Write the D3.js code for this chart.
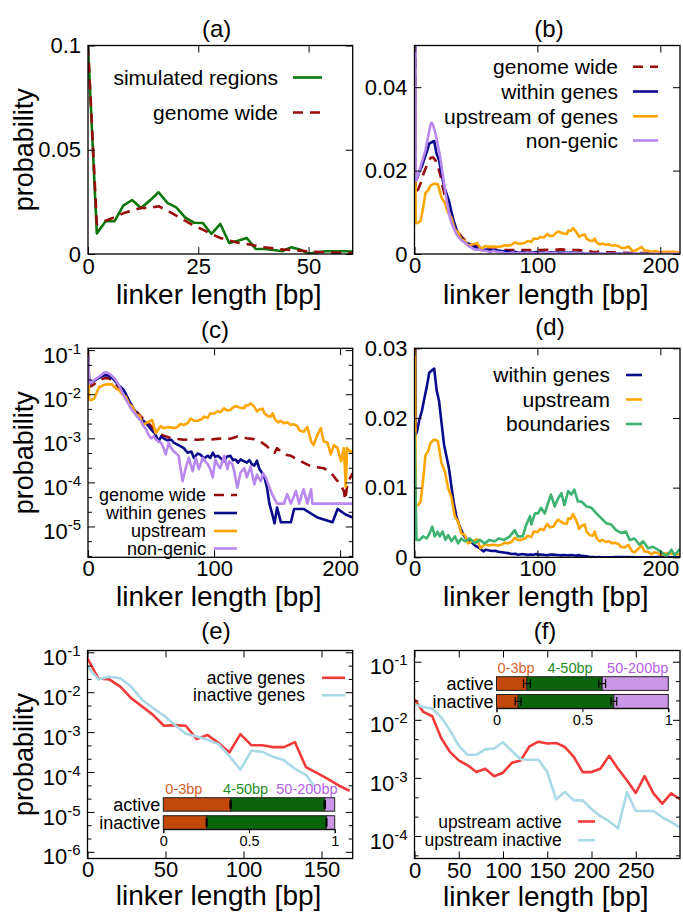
<!DOCTYPE html>
<html>
<head>
<meta charset="utf-8">
<script src="https://cdn.jsdelivr.net/npm/d3@7"></script>
<style>
  html, body { margin: 0; padding: 0; background: #fff; }
  svg { display: block; }
</style>
</head>
<body>
<svg id="fig" width="683" height="913"></svg>
<script>
// ---------------- data: [linker length (bp), probability] ----------------

// (a) 2-bp bins
const simulatedRegions = [
  [0,0.1],[2,0.0099],[4,0.0157],[6,0.0157],[8,0.0232],[10,0.0259],[12,0.0221],[14,0.0256],
  [16,0.0296],[18,0.0245],[20,0.0224],[22,0.0176],[24,0.015],[26,0.0149],[28,0.0096],[30,0.0144],
  [32,0.0053],[34,0.0064],[36,0.0077],[38,0.0024],[40,0.0024],[42,0.0019],[44,0.0013],[46,0.0032],
  [48,0.0022],[50,0.0002],[52,0.0008],[54,0.0013],[56,0.0013],[58,0.0013],[60,0.0012]
];
const genomeWide2bp = [
  [0,0.1],[2,0.0144],[4,0.016],[6,0.0176],[8,0.0195],[10,0.0208],[12,0.0221],[14,0.0221],
  [16,0.0229],[18,0.0208],[20,0.0184],[22,0.016],[24,0.0136],[26,0.0117],[28,0.0096],[30,0.0077],
  [32,0.0064],[34,0.0054],[36,0.0048],[38,0.004],[40,0.0032],[42,0.0027],[44,0.0022],[46,0.0019],
  [48,0.0016],[50,0.0013],[52,0.001],[54,0.0008],[56,0.0006],[58,0.0006],[60,0.0005]
];

// (b), (c), (d)
const genomeWide = [
  [0,0.1],[1,0.0148],[3,0.0155],[5,0.017],[7,0.019],[9,0.0205],[11,0.022],[13,0.023],[15,0.0232],
  [17,0.0225],[19,0.021],[21,0.019],[23,0.016],[25,0.0135],[27,0.011],[30,0.0088],[33,0.0065],
  [36.5,0.0048],[40,0.0036],[43,0.0029],[46,0.0024],[50,0.0019],[53,0.0016],[56,0.0013],[60,0.00115],
  [66,0.001],[70,0.00097],[76,0.00093],[80,0.00094],[87,0.00093],[92,0.00095],[97,0.00093],
  [102,0.00097],[108,0.001],[113,0.00098],[118.5,0.0011],[122,0.00104],[126,0.001],[130,0.00097],
  [134,0.00093],[138,0.0008],[142,0.00066],[145,0.00052],[148,0.00047],[150,0.0006],[153,0.0005],
  [155.5,0.00043],[161,0.0004],[166,0.00033],[171,0.00028],[177,0.00023],[182,0.00022],[187,0.00021],
  [192.6,0.000166],[198,0.000107],[201,0.00008],[203,0.000064],[204,0.00004],[206,0.0001],
  [210,0.00016],[216,0.00018]
];
const withinGenes = [
  [0,0.075],[1,0.0176],[2,0.018],[4,0.0198],[6,0.021],[8,0.0228],[10,0.0245],[12,0.0265],[14,0.0268],
  [16,0.0271],[18,0.024],[20,0.0224],[22,0.0193],[24,0.0162],[26,0.0145],[28,0.0128],[30,0.0102],
  [32,0.0078],[34,0.006],[36,0.0048],[38,0.0039],[40,0.0032],[42,0.0027],[44,0.0025],[46,0.0022],
  [48,0.0019],[50,0.0016],[53,0.0013],[56,0.00085],[58,0.0011],[60,0.001],[63,0.0009],[66,0.00093],
  [68,0.0008],[71,0.00072],[74,0.00065],[76,0.0006],[79,0.00047],[82,0.0005],[84,0.00036],[87,0.00045],
  [89,0.00043],[92,0.00035],[95,0.0004],[97,0.00036],[99,0.00047],[101,0.00038],[103,0.0004],
  [106,0.00034],[108,0.0003],[110,0.00038],[113,0.0004],[115,0.00032],[117,0.00033],[119,0.00028],
  [121,0.00033],[124,0.0003],[126,0.00028],[128,0.00032],[130,0.00026],[132,0.00024],[134,0.00031],
  [136,0.0002],[138,0.000166],[140,0.000129],[142,0.000076],[144,0.000032],[146,0.00002],
  [148,0.0000118],[150,0.000027],[153,0.0000125],[158,0.0000125],[161,0.0000125],[163.5,0.000025],
  [171,0.000025],[182,0.000016],[194,0.0000125],[198,0.000025],[204,0.000019],[210,0.000016],
  [216,0.000015]
];
const upstreamOfGenes = [
  [0,0.054],[1,0.0074],[3,0.0075],[5,0.008],[7,0.0111],[9,0.0147],[11,0.0152],[13,0.0164],[16,0.0169],
  [19,0.0167],[22,0.0135],[24.7,0.0123],[27.4,0.0099],[30,0.0087],[32.8,0.0059],[35.5,0.0051],
  [38,0.0035],[41,0.0032],[43.6,0.002],[46,0.0022],[48.4,0.0024],[51,0.0026],[53.7,0.0013],
  [57.7,0.0019],[60,0.0017],[64,0.0018],[68,0.0017],[70.7,0.0018],[73.5,0.0021],[76,0.002],
  [79,0.0022],[81.5,0.0028],[84,0.0025],[87,0.0025],[90,0.0027],[92,0.0031],[95,0.0029],[97,0.0037],
  [100,0.0036],[102.6,0.0041],[105,0.0039],[108,0.0048],[110,0.0043],[113,0.0044],[115,0.005],
  [117,0.0054],[118.5,0.0052],[121,0.0049],[124,0.0048],[125,0.0056],[127,0.0055],[129,0.0062],
  [131,0.0055],[132,0.0051],[134,0.0041],[136,0.0045],[138.5,0.0047],[140,0.0037],[142.5,0.0032],
  [145,0.0031],[146.6,0.0037],[148,0.0028],[150.7,0.0023],[153,0.0025],[155.5,0.0022],[158,0.0023],
  [161,0.002],[163,0.0021],[166,0.0019],[168,0.0015],[171,0.0014],[174,0.0018],[177,0.00085],
  [179,0.0007],[182,0.0012],[184.7,0.0017],[187,0.00085],[190,0.0008],[192.6,0.00043],[195,0.0007],
  [198,0.0006],[200.8,0.0003],[203,0.0006],[204.5,0.00008],[205.5,0.0006],[208,0.0005],[211,0.0005],
  [214,0.0004],[216,0.0005]
];
const nonGenic = [
  [0,0.1],[1,0.0175],[3,0.019],[5,0.021],[7,0.023],[9,0.025],[11,0.028],[13,0.031],[14,0.0315],
  [15,0.031],[17,0.029],[19,0.026],[21,0.023],[23,0.019],[25,0.015],[27,0.0114],[29,0.0085],
  [31,0.0068],[34,0.0048],[36,0.004],[39,0.0031],[42,0.0025],[44,0.0019],[46,0.0016],[48,0.0012],
  [50,0.001],[52,0.0011],[54,0.00093],[56,0.00085],[58,0.00079],[60,0.0006],[61.6,0.00043],
  [63,0.0006],[64,0.00079],[66,0.0006],[68,0.00051],[70,0.00045],[72,0.0004],[73,0.00025],
  [75,0.000107],[77.5,0.00021],[80,0.00036],[81.5,0.00025],[83,0.00018],[85.5,0.00036],[88,0.0002],
  [91,0.00036],[93,0.0003],[95,0.00026],[97,0.0002],[99,0.00013],[101,0.00033],[103,0.00025],
  [105,0.00021],[108,0.0004],[110.6,0.0002],[112,0.0003],[114.5,0.00026],[116,0.00018],
  [118.5,0.000076],[121,0.000166],[124,0.00021],[126,0.00013],[129,0.00023],[132,0.00009],
  [134,0.00015],[137,0.000107],[139,0.00016],[141,0.00013],[144,0.000076],[146,0.000054],
  [150,0.000033],[155.5,0.000033],[158,0.000054],[161,0.000033],[165,0.000064],[167.5,0.000033],
  [171,0.00007],[174,0.000033],[177,0.00007],[178,0.000033],[216,0.000033]
];
const boundaries = [
  [0,0.018],[1.6,0.0025],[4.3,0.0025],[7,0.003],[10,0.0027],[12.5,0.0035],[14.4,0.0044],[16.5,0.003],
  [18.7,0.0037],[20.6,0.003],[22.8,0.0037],[25.2,0.0025],[27.4,0.0032],[30,0.0023],[32.8,0.003],
  [35.5,0.002],[38,0.0027],[41,0.0023],[45,0.0027],[49,0.002],[53,0.0025],[57,0.002],[61,0.0025],
  [65,0.0023],[69,0.0027],[73,0.0025],[77.5,0.003],[81.6,0.0039],[84,0.003],[88,0.003],[91,0.0047],
  [94,0.0059],[95,0.0047],[98,0.0063],[100.5,0.0063],[103,0.0071],[106,0.0063],[108.7,0.0078],
  [111,0.009],[114,0.0073],[117,0.0085],[119.5,0.0092],[122,0.0075],[125,0.0095],[127.6,0.009],
  [130,0.0097],[133,0.008],[135.8,0.008],[140,0.0073],[144,0.0071],[148,0.0063],[152,0.0056],
  [156,0.0049],[160,0.0047],[164,0.0039],[168,0.0035],[172,0.0037],[175,0.0025],[179,0.0027],
  [183,0.0018],[186,0.0023],[190,0.0013],[194,0.0015],[198,0.0011],[202,0.0006],[205,0.0001],
  [209,0.0011],[211.6,0.0003],[216,0.0012]
];

// (e) 7-bp bins
const activeGenes = [
  [0,0.071],[7,0.022],[14,0.021],[21,0.0138],[28,0.0071],[35,0.0044],[42,0.0027],[49,0.00144],
  [56,0.0015],[63,0.00144],[70,0.00067],[77,0.00085],[84,0.00053],[91,0.00031],[98,0.00089],
  [105,0.00047],[112,0.00047],[119,0.00042],[126,0.00042],[133,0.00056],[140,0.000133],
  [147,0.000095],[154,0.000067],[161,0.000046],[168,0.000034]
];
const inactiveGenes = [
  [0,0.044],[7,0.021],[14,0.0245],[21,0.0224],[28,0.0138],[35,0.0065],[42,0.004],[49,0.0026],
  [56,0.0015],[63,0.00091],[70,0.00078],[77,0.00064],[84,0.0005],[91,0.00025],[98,0.000115],
  [105,0.00034],[112,0.00032],[119,0.00024],[126,0.000196],[133,0.00012],[140,0.000085],[147,0.000036]
];

// (f) 10-bp bins
const upstreamActive = [
  [0,0.0223],[10,0.0137],[20,0.0115],[30,0.0049],[40,0.0028],[50,0.002],[60,0.00165],[70,0.00126],
  [80,0.00144],[90,0.00107],[100,0.00123],[110,0.00182],[120,0.002],[130,0.0035],[140,0.0042],
  [150,0.0039],[160,0.004],[170,0.0034],[180,0.0023],[190,0.00126],[200,0.00126],[210,0.00144],
  [220,0.0024],[230,0.00144],[240,0.00091],[250,0.00055],[260,0.00107],[270,0.00054],[280,0.00036],
  [290,0.00054],[300,0.00043]
];
const upstreamInactive = [
  [0,0.0183],[10,0.0166],[20,0.0156],[30,0.0112],[40,0.0066],[50,0.0036],[60,0.0025],[70,0.0025],
  [80,0.0031],[90,0.0032],[100,0.0041],[110,0.0029],[120,0.0021],[130,0.00205],[140,0.00205],
  [150,0.00126],[160,0.00043],[170,0.00057],[180,0.00041],[190,0.00041],[200,0.00029],[210,0.00022],
  [220,0.00018],[230,0.000135],[240,0.00057],[250,0.00027],[260,0.00027],[270,0.00027],[280,0.00021],
  [290,0.000174],[300,0.00014]
];

// inset bars: fraction of linkers per length class (cumulative class boundaries)
const insetClasses = ["0-3bp", "4-50bp", "50-200bp"];
const insetRows = ["active", "inactive"];
const insetTicks = [0, 0.5, 1];
const insetTickLabels = ["0", "0.5", "1"];
const eActiveBounds = [0.393, 0.942];
const eInactiveBounds = [0.253, 0.952];
const eActiveErr = [0.004, 0.004];
const eInactiveErr = [0.003, 0.003];
const fActiveBounds = [0.177, 0.615];
const fInactiveBounds = [0.126, 0.683];
const fActiveErr = [0.02, 0.02];
const fInactiveErr = [0.017, 0.017];

// tick values and labels
const aXTicks = [0, 25, 50];
const aYTicks = [0, 0.05, 0.1];
const aYLabels = ["0", "0.05", "0.1"];
const bXTicks = [0, 100, 200];
const bYTicks = [0, 0.02, 0.04];
const bYLabels = ["0", "0.02", "0.04"];
const cXTicks = [0, 100, 200];
const cYTicks = [1e-5, 1e-4, 1e-3, 1e-2, 1e-1];
const dXTicks = [0, 100, 200];
const dYTicks = [0, 0.01, 0.02, 0.03];
const dYLabels = ["0", "0.01", "0.02", "0.03"];
const eXTicks = [0, 50, 100, 150];
const eYTicks = [1e-6, 1e-5, 1e-4, 1e-3, 1e-2, 1e-1];
const fXTicks = [0, 50, 100, 150, 200, 250];
const fYTicks = [1e-4, 1e-3, 1e-2, 1e-1];

// ---------------- drawing ----------------
const FONT = "'Liberation Sans', Arial, Helvetica, sans-serif";
const C = {
  sim: "#0b760b", gw: "#980c0c", within: "#0a0a8c", up: "#ffa500", non: "#b888f0",
  bound: "#3cb371", act: "#f23a3a", inact: "#a9d8e6"
};
const DASH = "10,7";
const LW = 2.6;

const svg = d3.select("#fig");
svg.append("rect").attr("width", 683).attr("height", 913).attr("fill", "#fff");
const defs = svg.append("defs");

function styleAxis(sel, size) {
  sel.attr("font-family", FONT).attr("font-size", size);
  sel.select(".domain").remove();
  sel.selectAll(".tick line").attr("stroke", "#000").attr("stroke-width", 1);
  sel.selectAll(".tick text").attr("fill", "#000");
}

function minorLogTicks(domain) {
  const out = [];
  const lo = Math.floor(Math.log10(domain[0])), hi = Math.ceil(Math.log10(domain[1]));
  for (let k = lo; k <= hi; k++) {
    [1 / 3, 2 / 3].forEach(f => {
      const v = Math.pow(10, k + f);
      if (v > domain[0] && v < domain[1]) out.push(v);
    });
  }
  return out;
}

function panel(p) {
  const g = svg.append("g");
  const x = d3.scaleLinear().domain(p.xDomain).range([p.left, p.right]);
  const y = (p.log ? d3.scaleLog() : d3.scaleLinear()).domain(p.yDomain).range([p.bottom, p.top]);
  const clipId = "clip-" + p.key;
  defs.append("clipPath").attr("id", clipId).append("rect")
    .attr("x", p.left).attr("y", p.top)
    .attr("width", p.right - p.left).attr("height", p.bottom - p.top);

  const line = d3.line().x(d => x(d[0])).y(d => y(d[1]));
  const plotG = g.append("g").attr("clip-path", `url(#${clipId})`);
  p.series.forEach(s => {
    plotG.append("path").datum(s.data)
      .attr("d", line)
      .attr("fill", "none")
      .attr("stroke", s.color)
      .attr("stroke-width", LW)
      .attr("stroke-linejoin", "round")
      .attr("stroke-dasharray", s.dash || null);
  });

  if (p.inset) p.inset(g, x, y);

  // x axes (bottom labelled, top mirrored)
  g.append("g").attr("transform", `translate(0,${p.bottom})`)
    .call(d3.axisBottom(x).tickValues(p.xTicks).tickSize(-7).tickPadding(p.xPad).tickFormat(d3.format("d")))
    .call(s => styleAxis(s, 22));
  g.append("g").attr("transform", `translate(0,${p.top})`)
    .call(d3.axisTop(x).tickValues(p.xTicks).tickSize(-7).tickFormat(""))
    .call(s => styleAxis(s, 22));

  // y axes
  if (p.log) {
    const left = g.append("g").attr("transform", `translate(${p.left},0)`)
      .call(d3.axisLeft(y).tickValues(p.yTicks).tickSize(-7).tickPadding(7).tickFormat(() => "10"))
      .call(s => styleAxis(s, 22));
    left.selectAll(".tick text").attr("dy", "0.55em").each(function (d) {
      d3.select(this).append("tspan").attr("dy", "-9").attr("font-size", 15)
        .text(Math.round(Math.log10(d)));
    });
    const minors = minorLogTicks(p.yDomain);
    g.append("g").attr("transform", `translate(${p.left},0)`)
      .call(d3.axisLeft(y).tickValues(minors).tickSize(-4).tickFormat(""))
      .call(s => styleAxis(s, 22));
    g.append("g").attr("transform", `translate(${p.right},0)`)
      .call(d3.axisRight(y).tickValues(p.yTicks).tickSize(-7).tickFormat(""))
      .call(s => styleAxis(s, 22));
    g.append("g").attr("transform", `translate(${p.right},0)`)
      .call(d3.axisRight(y).tickValues(minors).tickSize(-4).tickFormat(""))
      .call(s => styleAxis(s, 22));
  } else {
    g.append("g").attr("transform", `translate(${p.left},0)`)
      .call(d3.axisLeft(y).tickValues(p.yTicks).tickSize(-7).tickPadding(7).tickFormat((d, i) => p.yLabels[i]))
      .call(s => styleAxis(s, 22));
    g.append("g").attr("transform", `translate(${p.right},0)`)
      .call(d3.axisRight(y).tickValues(p.yTicks).tickSize(-7).tickFormat(""))
      .call(s => styleAxis(s, 22));
  }

  // frame
  g.append("rect").attr("x", p.left).attr("y", p.top)
    .attr("width", p.right - p.left).attr("height", p.bottom - p.top)
    .attr("fill", "none").attr("stroke", "#000").attr("stroke-width", 1.3);

  // title and axis labels
  g.append("text").attr("x", p.titleX).attr("y", p.titleY).attr("text-anchor", "middle")
    .attr("font-family", FONT).attr("font-size", 24).text(p.title);
  g.append("text").attr("x", (p.left + p.right) / 2 - 1.5).attr("y", p.xLabelY).attr("text-anchor", "middle")
    .attr("font-family", FONT).attr("font-size", 28).text("linker length [bp]");
  if (p.yLabel) {
    g.append("text")
      .attr("transform", `translate(33,${(p.top + p.bottom) / 2}) rotate(-90)`)
      .attr("text-anchor", "middle")
      .attr("font-family", FONT).attr("font-size", 27).text("probability");
  }

  // key
  const L = p.legend;
  const lg = g.append("g").attr("font-family", FONT).attr("font-size", L.size);
  p.series.forEach((s, i) => {
    const cy = L.rows[i];
    lg.append("text").attr("x", L.right).attr("y", cy + L.size * 0.35)
      .attr("text-anchor", "end").text(s.label);
    lg.append("line").attr("x1", L.x1).attr("x2", L.x2).attr("y1", cy).attr("y2", cy)
      .attr("stroke", s.color).attr("stroke-width", LW).attr("stroke-dasharray", s.dash || null);
  });
}

// stacked-fraction inset
const SEG_FILL = ["#c2480a", "#0a640a", "#cb96e6"];
const SEG_TEXT = ["#d4622a", "#1f8c1f", "#b45ee6"];

function insetBars(cfg) {
  return function (g) {
    const ig = g.append("g").attr("font-family", FONT);
    if (cfg.backdrop) {
      ig.append("rect").attr("x", cfg.backdrop[0]).attr("y", cfg.backdrop[1])
        .attr("width", cfg.backdrop[2]).attr("height", cfg.backdrop[3]).attr("fill", "#fff");
    }
    const xs = d3.scaleLinear().domain([0, 1]).range([cfg.x0, cfg.x1]);
    const rows = [
      { name: insetRows[0], bounds: cfg.activeBounds, err: cfg.activeErr, top: cfg.tops[0] },
      { name: insetRows[1], bounds: cfg.inactiveBounds, err: cfg.inactiveErr, top: cfg.tops[1] }
    ];
    rows.forEach(r => {
      const edges = [0, r.bounds[0], r.bounds[1], 1];
      for (let i = 0; i < 3; i++) {
        ig.append("rect")
          .attr("x", xs(edges[i])).attr("y", r.top)
          .attr("width", xs(edges[i + 1]) - xs(edges[i])).attr("height", cfg.barH)
          .attr("fill", SEG_FILL[i]).attr("stroke", "#222").attr("stroke-width", 1);
      }
      const cy = r.top + cfg.barH / 2;
      r.bounds.forEach((b, j) => {
        const e = r.err[j];
        const capH = cfg.barH * 0.32;
        ig.append("line").attr("x1", xs(b - e)).attr("x2", xs(b + e)).attr("y1", cy).attr("y2", cy)
          .attr("stroke", "#000").attr("stroke-width", 1.2);
        [b - e, b + e].forEach(v => {
          ig.append("line").attr("x1", xs(v)).attr("x2", xs(v)).attr("y1", cy - capH).attr("y2", cy + capH)
            .attr("stroke", "#000").attr("stroke-width", 1.2);
        });
      });
      ig.append("text").attr("x", cfg.x0 - 3).attr("y", cy + 18 * 0.35)
        .attr("text-anchor", "end").attr("font-size", 18).text(r.name);
    });
    insetClasses.forEach((c, i) => {
      ig.append("text").attr("x", xs(cfg.classPos[i])).attr("y", cfg.classY)
        .attr("text-anchor", "middle").attr("font-size", 14.5).attr("fill", SEG_TEXT[i]).text(c);
    });
    ig.append("g").attr("transform", `translate(0,${cfg.tops[1] + cfg.barH})`)
      .call(d3.axisBottom(xs).tickValues(insetTicks).tickSize(4).tickPadding(3)
        .tickFormat((d, i) => insetTickLabels[i]))
      .call(s => {
        s.attr("font-family", FONT).attr("font-size", 14.5);
        s.select(".domain").attr("stroke", "#000").attr("stroke-width", 1);
        s.selectAll(".tick line").attr("stroke", "#000");
        s.selectAll(".tick text").attr("fill", "#000");
      });
  };
}

// (a)
panel({
  key: "a", title: "(a)", titleX: 216.7, titleY: 37, yLabel: true,
  left: 88, right: 352.7, top: 45.5, bottom: 254, xPad: 4.5, xLabelY: 304,
  xDomain: [0, 60], yDomain: [0, 0.1], xTicks: aXTicks, yTicks: aYTicks, yLabels: aYLabels,
  series: [
    { label: "simulated regions", data: simulatedRegions, color: C.sim },
    { label: "genome wide", data: genomeWide2bp, color: C.gw, dash: DASH }
  ],
  legend: { right: 278, x1: 293, x2: 322, rows: [77.5, 112.5], size: 21 }
});

// (b)
panel({
  key: "b", title: "(b)", titleX: 549, titleY: 37, yLabel: false,
  left: 414.5, right: 680, top: 45.5, bottom: 254, xPad: 3.5, xLabelY: 304,
  xDomain: [0, 216], yDomain: [0, 0.05], xTicks: bXTicks, yTicks: bYTicks, yLabels: bYLabels,
  series: [
    { label: "genome wide", data: genomeWide, color: C.gw, dash: DASH },
    { label: "within genes", data: withinGenes, color: C.within },
    { label: "upstream of genes", data: upstreamOfGenes, color: C.up },
    { label: "non-genic", data: nonGenic, color: C.non }
  ],
  legend: { right: 618, x1: 633, x2: 658, rows: [66.7, 91.5, 116.3, 140.5], size: 21 }
});

// (c)
panel({
  key: "c", title: "(c)", titleX: 215, titleY: 338, yLabel: true, log: true,
  left: 88, right: 352.7, top: 348.3, bottom: 557.3, xPad: 3, xLabelY: 606,
  xDomain: [0, 210], yDomain: [2e-6, 0.11], xTicks: cXTicks, yTicks: cYTicks,
  series: [
    { label: "genome wide", data: genomeWide, color: C.gw, dash: DASH },
    { label: "within genes", data: withinGenes, color: C.within },
    { label: "upstream", data: upstreamOfGenes, color: C.up },
    { label: "non-genic", data: nonGenic, color: C.non }
  ],
  legend: { right: 206, x1: 214, x2: 237, rows: [495, 513, 531, 548.5], size: 18 }
});

// (d)
panel({
  key: "d", title: "(d)", titleX: 550, titleY: 335, yLabel: false,
  left: 414.5, right: 680, top: 348.3, bottom: 557.3, xPad: 3, xLabelY: 606,
  xDomain: [0, 216], yDomain: [0, 0.03], xTicks: dXTicks, yTicks: dYTicks, yLabels: dYLabels,
  series: [
    { label: "within genes", data: withinGenes, color: C.within },
    { label: "upstream", data: upstreamOfGenes, color: C.up },
    { label: "boundaries", data: boundaries, color: C.bound }
  ],
  legend: { right: 610, x1: 626, x2: 642, rows: [375, 399.5, 424], size: 21 }
});

// (e)
panel({
  key: "e", title: "(e)", titleX: 216, titleY: 638.5, yLabel: true, log: true,
  left: 87.5, right: 352.7, top: 650.5, bottom: 858.5, xPad: 2.5, xLabelY: 905,
  xDomain: [0, 170], yDomain: [6.8e-7, 0.111], xTicks: eXTicks, yTicks: eYTicks,
  series: [
    { label: "active genes", data: activeGenes, color: C.act },
    { label: "inactive genes", data: inactiveGenes, color: C.inact }
  ],
  legend: { right: 305, x1: 322, x2: 345, rows: [677.8, 695.3], size: 17.5 },
  inset: insetBars({
    x0: 163.3, x1: 334.7, tops: [797.7, 815.7], barH: 13.5,
    activeBounds: eActiveBounds, inactiveBounds: eInactiveBounds,
    activeErr: eActiveErr, inactiveErr: eInactiveErr,
    classPos: [0.12, 0.48, 0.838], classY: 794,
    backdrop: [96, 786, 240, 62]
  })
});

// (f)
panel({
  key: "f", title: "(f)", titleX: 545, titleY: 638.5, yLabel: false, log: true,
  left: 414.5, right: 680, top: 650.5, bottom: 858.5, xPad: 3.5, xLabelY: 906,
  xDomain: [0, 300], yDomain: [4.1e-5, 0.156], xTicks: fXTicks, yTicks: fYTicks,
  series: [
    { label: "upstream active", data: upstreamActive, color: C.act },
    { label: "upstream inactive", data: upstreamInactive, color: C.inact }
  ],
  legend: { right: 561.7, x1: 578, x2: 595, rows: [821.5, 840.2], size: 17.5 },
  inset: insetBars({
    x0: 496.5, x1: 668.3, tops: [676.7, 694.5], barH: 13.7,
    activeBounds: fActiveBounds, inactiveBounds: fInactiveBounds,
    activeErr: fActiveErr, inactiveErr: fInactiveErr,
    classPos: [0.114, 0.428, 0.822], classY: 672.7
  })
});
</script>
</body>
</html>
